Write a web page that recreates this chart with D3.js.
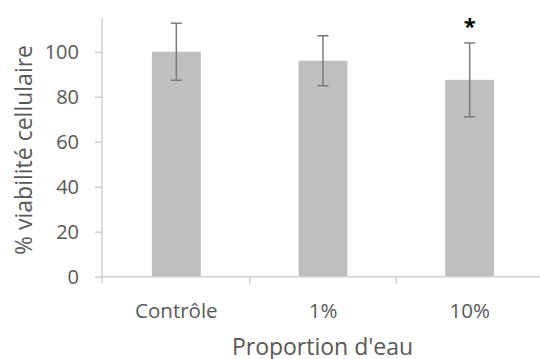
<!DOCTYPE html>
<html>
<head>
<meta charset="utf-8">
<script src="https://cdn.jsdelivr.net/npm/d3@7"></script>
<style>
  html, body { margin: 0; padding: 0; background: #fff; }
  svg { display: block; }
</style>
</head>
<body>
<svg id="chart" width="540" height="359"></svg>
<script>
// ---- data ----
const categories = ["Contrôle", "1%", "10%"];
const values = [100, 96, 87.5];
const errors = [12.7, 11.1, 16.4];
const significant = [false, false, true];
const yTicks = [0, 20, 40, 60, 80, 100];
const yMax = 115;
const xTitle = "Proportion d'eau";
const yTitle = "% viabilité cellulaire";

// ---- layout ----
const W = 540, H = 359;
const x0 = 102, x1 = 543, yZero = 276.7, yTop = 18;
const font = "'Open Sans', 'Liberation Sans', sans-serif";
const textColor = "#595959";
const axisColor = "#d0d0d0";

const svg = d3.select("#chart");

const x = d3.scaleBand().domain(categories).range([x0 + 1, x1]).padding(0);
const y = d3.scaleLinear().domain([0, yMax]).range([yZero, yTop]);

// bars (Excel-style gap width 200%)
const bw = x.bandwidth() / 3;
svg.append("g").selectAll("rect").data(categories).join("rect")
  .attr("x", d => x(d) + bw)
  .attr("width", bw)
  .attr("y", (d, i) => y(values[i]))
  .attr("height", (d, i) => yZero - y(values[i]))
  .attr("fill", "#bfbfbf");

// y axis
const yAxis = d3.axisLeft(y).tickValues(yTicks).tickSize(7).tickPadding(16).tickFormat(d3.format("d"));
const gy = svg.append("g").attr("transform", `translate(${x0},0)`).call(yAxis);
gy.select(".domain").remove();
gy.append("line").attr("x1", 0).attr("x2", 0).attr("y1", y(yMax)).attr("y2", yZero + 7)
  .attr("stroke", axisColor).attr("stroke-width", 1.5);
gy.selectAll(".tick line").attr("stroke", axisColor).attr("stroke-width", 1.5);
gy.selectAll(".tick text").attr("fill", textColor).style("font-family", font).style("font-size", "20px");

// x axis
const gx = svg.append("g").attr("transform", `translate(0,${yZero})`);
gx.append("line").attr("x1", x0).attr("x2", W).attr("y1", 0).attr("y2", 0)
  .attr("stroke", axisColor).attr("stroke-width", 1.5);
const boundaries = categories.slice(1).map(c => x(c));
gx.selectAll("line.tk").data(boundaries).join("line").attr("class", "tk")
  .attr("x1", d => d).attr("x2", d => d).attr("y1", 0).attr("y2", 7)
  .attr("stroke", axisColor).attr("stroke-width", 1.5);
gx.selectAll("text").data(categories).join("text")
  .attr("x", d => x(d) + x.bandwidth() / 2)
  .attr("y", 41.5)
  .attr("text-anchor", "middle")
  .attr("fill", textColor)
  .style("font-family", font).style("font-size", "20.5px")
  .text(d => d);

// error bars
const eb = svg.append("g").attr("stroke", "#7a7a7a").attr("stroke-width", 1.5).attr("fill", "none");
categories.forEach((c, i) => {
  const cx = x(c) + x.bandwidth() / 2;
  const top = y(values[i] + errors[i]), bot = y(values[i] - errors[i]);
  eb.append("line").attr("x1", cx).attr("x2", cx).attr("y1", top).attr("y2", bot);
  eb.append("line").attr("x1", cx - 5.5).attr("x2", cx + 5.5).attr("y1", top).attr("y2", top);
  eb.append("line").attr("x1", cx - 5.5).attr("x2", cx + 5.5).attr("y1", bot).attr("y2", bot);
});

// significance asterisks
svg.append("g").selectAll("text").data(categories.filter((c, i) => significant[i])).join("text")
  .attr("x", d => x(d) + x.bandwidth() / 2)
  .attr("y", d => { const i = categories.indexOf(d); return y(values[i] + errors[i]) - 9; })
  .attr("text-anchor", "middle")
  .attr("fill", "#000")
  .style("font-family", font).style("font-size", "22px").style("font-weight", "bold")
  .text("*");

// axis titles
svg.append("text")
  .attr("x", (x0 + x1) / 2).attr("y", 355)
  .attr("text-anchor", "middle").attr("fill", textColor)
  .style("font-family", font).style("font-size", "23px")
  .text(xTitle);

svg.append("text")
  .attr("transform", "translate(32,150) rotate(-90)")
  .attr("text-anchor", "middle").attr("fill", textColor)
  .style("font-family", font).style("font-size", "23px")
  .text(yTitle);
</script>
</body>
</html>
